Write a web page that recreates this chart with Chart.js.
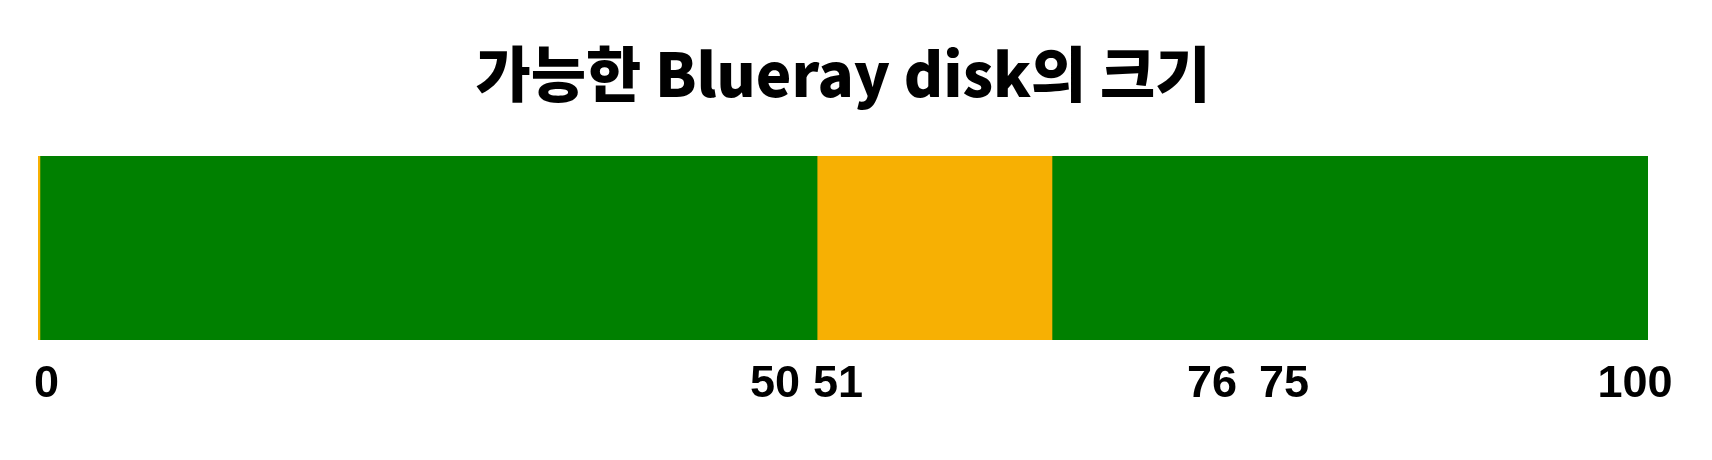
<!DOCTYPE html>
<html>
<head>
<meta charset="utf-8">
<script src="https://cdn.jsdelivr.net/npm/chart.js@4"></script>
<style>
  body { margin: 0; background: #fff; }
  #caja { width: 1712px; height: 460px; }
</style>
</head>
<body>
<div id="caja"><canvas id="grafica"></canvas></div>
<script>
// Datos
const categorias = ['Blueray disk'];
const segmentos = [0.12, 48.27, 14.59, 37.02];
const etiquetas = ['0', '50', '51', '76', '75', '100'];
const posEtiquetas = [0.53, 45.78, 49.69, 72.92, 77.39, 99.19];

const colores = ['#f7b003', '#008000', '#f7b003', '#008000'];

const datasets = segmentos.map((v, i) => ({
  data: [v],
  backgroundColor: colores[i],
  borderWidth: 0,
  barPercentage: 1,
  categoryPercentage: 1
}));

const ctx = document.getElementById('grafica').getContext('2d');
new Chart(ctx, {
  type: 'bar',
  data: { labels: categorias, datasets: datasets },
  options: {
    indexAxis: 'y',
    responsive: true,
    maintainAspectRatio: false,
    animation: false,
    layout: { padding: { left: 38, right: 64, top: 0, bottom: 30 } },
    plugins: {
      legend: { display: false },
      tooltip: { enabled: false },
      title: {
        display: true,
        text: '가능한 Blueray disk의 크기',
        color: '#000',
        font: { family: '"Noto Sans CJK KR"', size: 60, weight: 900 },
        padding: { top: 38, bottom: 46 }
      }
    },
    scales: {
      y: { stacked: true, display: false },
      x: {
        stacked: true,
        min: 0,
        max: 100,
        grid: { display: false, drawTicks: false },
        border: { display: false },
        afterBuildTicks: axis => {
          axis.ticks = posEtiquetas.map(v => ({ value: v }));
        },
        ticks: {
          autoSkip: false,
          maxRotation: 0,
          padding: 18,
          color: '#000',
          font: { family: '"Liberation Sans"', size: 45, weight: 'bold' },
          callback: (valor, i) => etiquetas[i]
        }
      }
    }
  }
});
</script>
</body>
</html>
